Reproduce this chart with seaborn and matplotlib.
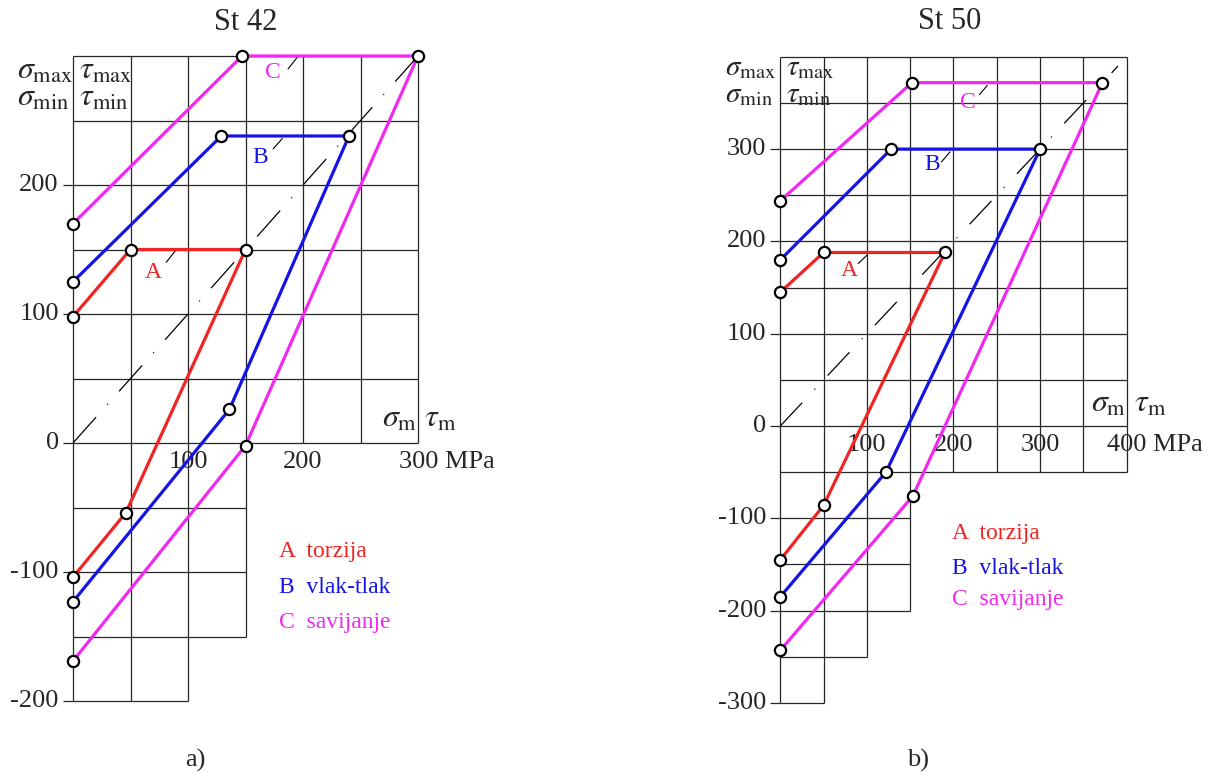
import matplotlib
matplotlib.use('Agg')
import matplotlib.pyplot as plt
import seaborn as sns

# ---- data (MPa) ----
# St 42: each curve goes sigma_max branch -> top corner -> sigma_min branch
st42_A_x = [0, 50, 150, 46, 0]
st42_A_y = [98, 150, 150, -54, -104]
st42_B_x = [0, 129, 240, 136, 0]
st42_B_y = [125, 238, 238, 26, -123]
st42_C_x = [0, 147, 300, 150, 0]
st42_C_y = [170, 300, 300, -2, -169]

# St 50
st50_A_x = [0, 50, 190, 50, 0]
st50_A_y = [145, 188, 188, -86, -145]
st50_B_x = [0, 128, 300, 122, 0]
st50_B_y = [180, 300, 300, -50, -185]
st50_C_x = [0, 152, 372, 153, 0]
st50_C_y = [244, 372, 372, -76, -243]

curve_names = ['A', 'B', 'C']
legend_words = ['torzija', 'vlak-tlak', 'savijanje']
curve_colors = ['#f02424', '#1414e6', '#f028f0']

st42_yticks = [200, 100, 0, -100, -200]
st50_yticks = [300, 200, 100, 0, -100, -200, -300]
st42_xticks = [100, 200]
st50_xticks = [100, 200, 300]

# grid: horizontal lines (y, x_end) and vertical lines (x, y_start); all start at x=0 / end at top
st42_hgrid = [(300, 300), (250, 300), (200, 300), (150, 300), (100, 300), (50, 300), (0, 300),
              (-50, 150), (-100, 150), (-150, 150), (-200, 100)]
st42_vgrid = [(0, -200), (50, -200), (100, -200), (150, -150), (200, 0), (250, 0), (300, 0)]
st50_hgrid = [(y, 400) for y in (400, 350, 300, 250, 200, 150, 100, 50, 0, -50)] + \
             [(-100, 150), (-150, 150), (-200, 150), (-250, 100), (-300, 50)]
st50_vgrid = [(0, -300), (50, -300), (100, -250), (150, -200), (200, -50),
              (250, -50), (300, -50), (350, -50), (400, -50)]

# label positions and their short leader lines
st42_labels = [(70, 132), (163, 221), (174, 287)]
st42_leaders = [((81, 89), (140, 149)), ((174, 182), (228, 236)), ((187, 195), (290, 299))]
st50_labels = [(80, 169), (175, 283), (217, 351)]
st50_leaders = [((90, 100), (176, 185)), ((186, 196), (286, 297)), ((230, 239), (359, 369))]

sns.set_style('white')
plt.rcParams['font.family'] = ['Liberation Serif', 'DejaVu Serif']
plt.rcParams['mathtext.fontset'] = 'stix'
plt.rcParams['lines.scale_dashes'] = False

W, H = 1225, 782
fig = plt.figure(figsize=(W / 100, H / 100), dpi=100)


def place_axes(x0, y0, sx, sy, xlim, ylim):
    """Axes whose data origin sits at pixel (x0, y0) with sx, sy px per MPa."""
    left = x0 + sx * xlim[0]
    right = x0 + sx * xlim[1]
    top = y0 - sy * ylim[1]
    bottom = y0 - sy * ylim[0]
    ax = fig.add_axes([left / W, (H - bottom) / H, (right - left) / W, (bottom - top) / H])
    ax.set_xlim(xlim)
    ax.set_ylim(ylim)
    ax.axis('off')
    return ax


def draw_panel(ax, sx, cfg):
    top = cfg['top']
    gc = '#262626'
    for y, xe in cfg['hgrid']:
        ax.hlines(y, 0, xe, color=gc, lw=0.9, zorder=1)
    for x, ys in cfg['vgrid']:
        ax.vlines(x, ys, top, color=gc, lw=0.9, zorder=1)
    # y tick stubs + labels
    stub = 10 / sx
    ax.hlines(cfg['yticks'], -stub, 0, color=gc, lw=0.9)
    for t in cfg['yticks']:
        ax.annotate(str(t), xy=(-stub, t), xytext=(-3, 0), textcoords='offset points',
                    ha='right', va='center', fontsize=19)
    for t in cfg['xticks']:
        ax.annotate(str(t), xy=(t, 0), xytext=(0, -14), textcoords='offset points',
                    ha='center', va='center', fontsize=19)
    ax.annotate(f"{cfg['xmax']} MPa", xy=(cfg['xmax'], 0), xytext=(-14, -14),
                textcoords='offset points', ha='left', va='center', fontsize=19)

    # diagonal sigma_max = sigma_m
    diag = [0, cfg['diag']]
    ln, = ax.plot(diag, diag, color='black', lw=0.9, zorder=2)
    ln.set_dashes((cfg['dash'], cfg['gap'], 0.8, cfg['gap']))

    # curves
    for i, (xs, ys) in enumerate(cfg['curves']):
        sns.lineplot(x=xs, y=ys, ax=ax, sort=False, estimator=None, color=curve_colors[i],
                     lw=2.3, zorder=3)
        sns.scatterplot(x=xs, y=ys, ax=ax, s=65, color='white', edgecolor='black',
                        linewidth=1.6, zorder=5)
        lx, ly = cfg['labels'][i]
        ax.text(lx, ly, curve_names[i], color=curve_colors[i], fontsize=17,
                ha='center', va='center')
        (ax0, ax1), (ay0, ay1) = cfg['leaders'][i]
        ax.plot([ax0, ax1], [ay0, ay1], color='black', lw=0.8, zorder=2)

    # legend
    for i, ly in enumerate(cfg['legend_y']):
        ax.text(cfg['legend_x'], ly, f"{curve_names[i]}  {legend_words[i]}",
                color=curve_colors[i], fontsize=17, ha='left', va='center')

    # axis captions
    sx_, tx_, ymx, ymn = cfg['head']
    hs = cfg['head_size']
    ax.text(sx_, ymx, r'$\sigma_{\rm max}$', fontsize=hs, ha='left', va='center')
    ax.text(sx_, ymn, r'$\sigma_{\rm min}$', fontsize=hs, ha='left', va='center')
    ax.text(tx_, ymx, r'$\tau_{\rm max}$', fontsize=hs, ha='left', va='center')
    ax.text(tx_, ymn, r'$\tau_{\rm min}$', fontsize=hs, ha='left', va='center')
    msx, mtx, my = cfg['mean']
    ax.text(msx, my, r'$\sigma_{\rm m}$', fontsize=23, ha='left', va='center')
    ax.text(mtx, my, r'$\tau_{\rm m}$', fontsize=23, ha='left', va='center')

    ax.text(cfg['title'][0], cfg['title'][1], cfg['title'][2], fontsize=22,
            ha='center', va='center')
    ax.text(cfg['sub'][0], cfg['sub'][1], cfg['sub'][2], fontsize=19,
            ha='center', va='center')


# left panel: origin at (73, 443) px, 1.15 px/MPa horizontally, 1.29 vertically
ax1 = place_axes(73, 443, 1.15, 1.29, (-60, 400), (-260, 340))
draw_panel(ax1, 1.15, dict(
    top=300, hgrid=st42_hgrid, vgrid=st42_vgrid, yticks=st42_yticks, xticks=st42_xticks,
    xmax=300, diag=300, dash=25, gap=12,
    curves=[(st42_A_x, st42_A_y), (st42_B_x, st42_B_y), (st42_C_x, st42_C_y)],
    labels=st42_labels, leaders=st42_leaders,
    legend_x=179, legend_y=[-84, -112, -139],
    head=(-49, 5, 288, 267), head_size=23, mean=(269, 305, 18),
    title=(150, 326, 'St 42'), sub=(106, -246, 'a)')))

# right panel: origin at (780, 426) px, 0.866 px/MPa horizontally, 0.923 vertically
ax2 = place_axes(780.3, 426, 0.866, 0.923, (-60, 450), (-385, 455))
draw_panel(ax2, 0.866, dict(
    top=400, hgrid=st50_hgrid, vgrid=st50_vgrid, yticks=st50_yticks, xticks=st50_xticks,
    xmax=400, diag=390, dash=23, gap=13,
    curves=[(st50_A_x, st50_A_y), (st50_B_x, st50_B_y), (st50_C_x, st50_C_y)],
    labels=st50_labels, leaders=st50_leaders,
    legend_x=198, legend_y=[-117, -154, -188],
    head=(-64, 7, 388, 358), head_size=21, mean=(359, 408, 24),
    title=(196, 438, 'St 50'), sub=(159, -362, 'b)')))

fig.savefig('out.png', dpi=100)
plt.close(fig)
